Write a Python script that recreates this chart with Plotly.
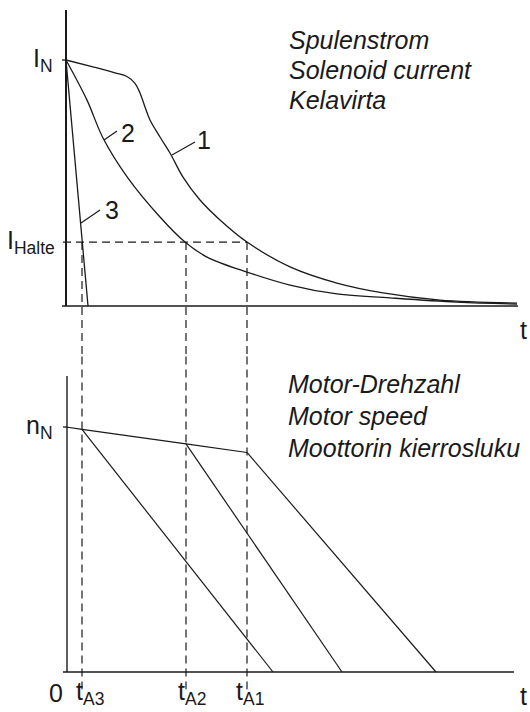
import plotly.graph_objects as go

# ---------------- data (schematic units) ----------------
# time axis: arbitrary units; current / speed normalised to nominal (=1)
I_N = 1.0
I_HALTE = 0.26
N_N = 1.0
T_END_TOP = 45.2
T_END_BOT = 44.8

t_A3 = 1.6
t_A2 = 12.0
t_A1 = 18.1

curve1_t = [0, 2.5, 4.9, 6.1, 6.9, 7.4, 7.9, 8.4, 9.4, 10.4, 11.7, 13.4, 15.4, 18.1, 22.4, 27.1, 31.7, 37.4, 45.1]
curve1_i = [1.0, 0.974, 0.948, 0.933, 0.905, 0.866, 0.809, 0.756, 0.687, 0.622, 0.524, 0.431, 0.350, 0.260, 0.159, 0.093, 0.053, 0.024, 0.012]

curve2_t = [0, 2.1, 3.7, 6.2, 9.4, 11.9, 14.1, 18.1, 22.4, 27.1, 32.4, 39.1, 45.1]
curve2_i = [1.0, 0.837, 0.683, 0.520, 0.362, 0.260, 0.199, 0.138, 0.085, 0.049, 0.033, 0.016, 0.008]

curve3_t = [0, 2.2]
curve3_i = [1.0, 0.0]

# motor speed: common run-down until switch-off, then linear braking
speed_t = [0, 1.6, 12.0, 18.1]
speed_n = [1.0, 0.990, 0.931, 0.896]
stop_t = [20.7, 27.6, 37.0]          # standstill times for t_A3, t_A2, t_A1
switch_t = [t_A3, t_A2, t_A1]
switch_n = [0.990, 0.931, 0.896]

top_texts = ["Spulenstrom", "Solenoid current", "Kelavirta"]
bot_texts = ["Motor-Drehzahl", "Motor speed", "Moottorin kierrosluku"]
curve_labels = ["1", "2", "3"]
time_labels = ["0", "t<sub>A3</sub>", "t<sub>A2</sub>", "t<sub>A1</sub>"]

# ---------------- figure ----------------
W, H = 530, 712
LINE = "#1a1a1a"
FONT = "Liberation Sans, Arial, sans-serif"

def px(xp):
    return xp / W

def py(yp):
    return 1 - yp / H

fig = go.Figure()

# top panel curves
for tt, ii in [(curve1_t, curve1_i), (curve2_t, curve2_i)]:
    fig.add_trace(go.Scatter(x=tt, y=ii, mode="lines", xaxis="x", yaxis="y",
                             line=dict(color=LINE, width=1.3, shape="spline", smoothing=1.0),
                             hoverinfo="skip", showlegend=False))
fig.add_trace(go.Scatter(x=curve3_t, y=curve3_i, mode="lines", xaxis="x", yaxis="y",
                         line=dict(color=LINE, width=1.3), hoverinfo="skip", showlegend=False))

# dashed holding-current line and switch-off verticals
dash = "8px,5px"
fig.add_trace(go.Scatter(x=[-0.3, t_A1], y=[I_HALTE, I_HALTE], mode="lines", xaxis="x", yaxis="y",
                         line=dict(color=LINE, width=1.2, dash=dash), hoverinfo="skip", showlegend=False))
for ts in switch_t:
    fig.add_trace(go.Scatter(x=[ts, ts], y=[I_HALTE, -0.5], mode="lines", xaxis="x", yaxis="y",
                             line=dict(color=LINE, width=1.2, dash=dash), hoverinfo="skip", showlegend=False))
    fig.add_trace(go.Scatter(x=[ts, ts], y=[1.5, -0.07], mode="lines", xaxis="x2", yaxis="y2",
                             line=dict(color=LINE, width=1.2, dash=dash), hoverinfo="skip", showlegend=False))

# bottom panel: speed
fig.add_trace(go.Scatter(x=speed_t, y=speed_n, mode="lines", xaxis="x2", yaxis="y2",
                         line=dict(color=LINE, width=1.2), hoverinfo="skip", showlegend=False))
for ts, ns, te in zip(switch_t, switch_n, stop_t):
    fig.add_trace(go.Scatter(x=[ts, te], y=[ns, 0], mode="lines", xaxis="x2", yaxis="y2",
                             line=dict(color=LINE, width=1.2), hoverinfo="skip", showlegend=False))

# axes lines drawn as shapes
shapes = [
    dict(type="line", xref="x", yref="y", x0=0, x1=0, y0=0, y1=1.203, line=dict(color=LINE, width=2)),
    dict(type="line", xref="x", yref="y", x0=-0.4, x1=T_END_TOP, y0=0, y1=0, line=dict(color=LINE, width=1.5)),
    dict(type="line", xref="x", yref="y", x0=-0.4, x1=0, y0=I_N, y1=I_N, line=dict(color=LINE, width=1.3)),
    dict(type="line", xref="x2", yref="y2", x0=0.1, x1=0.1, y0=0, y1=1.208, line=dict(color=LINE, width=1.4)),
    dict(type="line", xref="x2", yref="y2", x0=-0.3, x1=T_END_BOT, y0=0, y1=0, line=dict(color=LINE, width=1.5)),
    dict(type="line", xref="x2", yref="y2", x0=-0.3, x1=0.1, y0=N_N, y1=N_N, line=dict(color=LINE, width=1.3)),
    # leader lines for curve numbers
    dict(type="line", xref="x", yref="y", x0=10.6, x1=12.9, y0=0.614, y1=0.667, line=dict(color=LINE, width=1.2)),
    dict(type="line", xref="x", yref="y", x0=3.8, x1=5.1, y0=0.675, y1=0.711, line=dict(color=LINE, width=1.2)),
    dict(type="line", xref="x", yref="y", x0=1.5, x1=3.4, y0=0.337, y1=0.390, line=dict(color=LINE, width=1.2)),
]

ann = []
big = dict(family=FONT, size=25, color=LINE)
# curve numbers
for lab, (xx, yy) in zip(curve_labels, [(13.8, 0.675), (6.2, 0.703), (4.6, 0.39)]):
    ann.append(dict(text=lab, x=xx, y=yy, xref="x", yref="y", showarrow=False,
                    xanchor="center", yanchor="middle", font=big))
# italic titles
for i, s in enumerate(top_texts):
    ann.append(dict(text="<i>" + s + "</i>", x=px(287), y=py(40 + 30 * i), xref="paper", yref="paper",
                    showarrow=False, xanchor="left", yanchor="middle", font=big))
for i, s in enumerate(bot_texts):
    ann.append(dict(text="<i>" + s + "</i>", x=px(286), y=py(384 + 32 * i), xref="paper", yref="paper",
                    showarrow=False, xanchor="left", yanchor="middle", font=big))
# axis labels
ann.append(dict(text="I<sub>N</sub>", x=-1.1, y=I_N, xref="x", yref="y", showarrow=False,
                xanchor="right", yanchor="middle", font=big))
ann.append(dict(text="I<sub>Halte</sub>", x=-0.9, y=I_HALTE, xref="x", yref="y", showarrow=False,
                xanchor="right", yanchor="middle", font=big))
ann.append(dict(text="n<sub>N</sub>", x=-1.1, y=N_N, xref="x2", yref="y2", showarrow=False,
                xanchor="right", yanchor="middle", font=big))
ann.append(dict(text="t", x=px(523), y=py(330), xref="paper", yref="paper", showarrow=False,
                xanchor="center", yanchor="middle", font=big))
ann.append(dict(text="t", x=px(523), y=py(696), xref="paper", yref="paper", showarrow=False,
                xanchor="center", yanchor="middle", font=big))
for lab, xx in zip(time_labels, [-1.0, t_A3 + 0.8, t_A2 + 0.6, t_A1 + 0.3]):
    ann.append(dict(text=lab, x=xx, y=-0.085, xref="x2", yref="y2", showarrow=False,
                    xanchor="center", yanchor="middle", font=big))

split = 355
fig.update_layout(
    width=W, height=H,
    margin=dict(l=0, r=0, t=0, b=0),
    paper_bgcolor="white", plot_bgcolor="white",
    xaxis=dict(domain=[0, 1], range=[-6.6, 46.4], visible=False, anchor="y"),
    yaxis=dict(domain=[1 - split / H, 1], range=[-(split - 306) / 246, 306 / 246], visible=False, anchor="x"),
    xaxis2=dict(domain=[0, 1], range=[-6.6, 46.4], visible=False, anchor="y2", matches="x"),
    yaxis2=dict(domain=[0, 1 - split / H], range=[-(H - 672) / 245, (672 - split) / 245], visible=False, anchor="x2"),
    shapes=shapes,
    annotations=ann,
)

fig.write_html("out.html", config={"displayModeBar": False},
               post_script="document.body.style.margin='0';document.body.style.overflow='hidden';")
